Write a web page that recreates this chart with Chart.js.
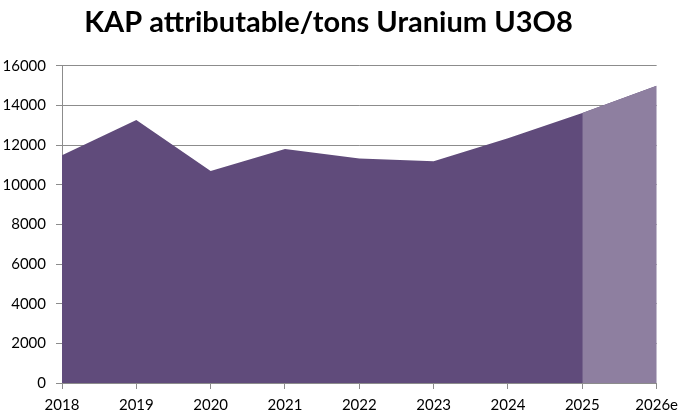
<!DOCTYPE html>
<html>
<head>
<meta charset="utf-8">
<script src="https://cdn.jsdelivr.net/npm/chart.js@4.4.1/dist/chart.umd.min.js"></script>
<style>
  html, body { margin: 0; padding: 0; background: #fff; }
  #wrap { width: 685px; height: 417px; }
</style>
</head>
<body>
<div id="wrap"><canvas id="kapChart"></canvas></div>
<script>
// Years on the x axis (last one is an estimate)
const years = ['2018', '2019', '2020', '2021', '2022', '2023', '2024', '2025', '2026e'];

// KAP attributable production, tons U3O8
const tonsU3O8 = [11490, 13260, 10690, 11800, 11330, 11180, 12340, 13620, 15000];

// Estimate part only: 2025 -> 2026e, shaded lighter
const tonsEstimate = [null, null, null, null, null, null, null, 13620, 15000];

// Y axis ticks
const yTicks = [0, 2000, 4000, 6000, 8000, 10000, 12000, 14000, 16000];

const darkPurple = '#604B7B';
const lightPurple = '#8E7FA0';
const gridGray = '#8C8C8C';

const ctx = document.getElementById('kapChart').getContext('2d');

new Chart(ctx, {
    type: 'line',
    data: {
        labels: years,
        datasets: [
            {
                label: 'estimate',
                data: tonsEstimate,
                fill: 'origin',
                backgroundColor: lightPurple,
                borderWidth: 0,
                pointRadius: 0,
                tension: 0,
                order: 0, // drawn on top
            },
            {
                label: 'tons U3O8',
                data: tonsU3O8,
                fill: 'origin',
                backgroundColor: darkPurple,
                borderWidth: 0,
                pointRadius: 0,
                tension: 0,
                order: 1,
            },
        ],
    },
    options: {
        responsive: true,
        maintainAspectRatio: false,
        animation: false,
        layout: {
            padding: { left: 0, right: 28, top: 0, bottom: 0 },
        },
        plugins: {
            legend: { display: false },
            tooltip: { enabled: false },
            title: {
                display: true,
                text: 'KAP attributable/tons Uranium U3O8',
                color: '#000',
                font: { family: 'Lato', size: 29, weight: 'bold' },
                padding: { top: 5, bottom: 26 },
            },
        },
        scales: {
            x: {
                type: 'category',
                offset: false,
                border: { color: gridGray, width: 1 },
                grid: {
                    drawOnChartArea: false,
                    drawTicks: true,
                    tickLength: 6,
                    color: gridGray,
                },
                ticks: {
                    color: '#000',
                    padding: 7,
                    maxRotation: 0,
                    autoSkip: false,
                    font: { family: 'Lato', size: 15 },
                },
                afterFit: scale => { scale.height = 34; },
            },
            y: {
                min: 0,
                max: 16000,
                border: { color: gridGray, width: 1 },
                grid: {
                    color: gridGray,
                    tickLength: 6,
                },
                afterBuildTicks: scale => {
                    scale.ticks = yTicks.map(v => ({ value: v }));
                },
                ticks: {
                    color: '#000',
                    padding: 10,
                    font: { family: 'Lato', size: 15 },
                    callback: value => String(value),
                },
                afterFit: scale => { scale.width = 62; },
            },
        },
    },
});
</script>
</body>
</html>
